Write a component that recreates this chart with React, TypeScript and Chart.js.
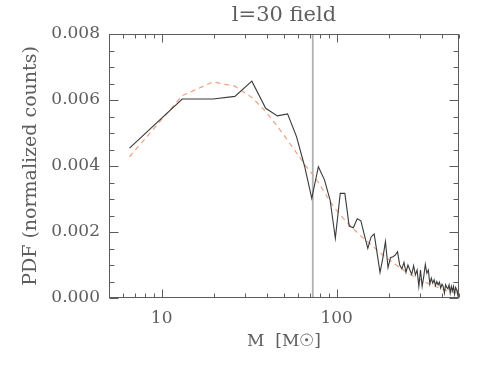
import React, { useEffect, useRef } from "react";
import { Chart, registerables } from "chart.js";

Chart.register(...registerables);

const titleText = "l=30 field";
const xTitle = "M  [M\u2609]";
const yTitle = "PDF (normalized counts)";

const mass = [
  6.55, 13.1, 19.65, 26.2, 32.75, 39.3, 45.85, 52.4, 58.95, 65.5,
  72.05, 78.6, 85.15, 91.7, 98.25, 104.8, 111.35, 117.9, 124.45, 131.0,
  137.55, 144.1, 150.65, 157.2, 163.75, 170.3, 176.85, 183.4, 189.95, 196.5,
  203.05, 209.6, 216.15, 222.7, 229.25, 235.8, 242.35, 248.9, 255.45, 262.0,
  268.55, 275.1, 281.65, 288.2, 294.75, 301.3, 307.85, 314.4, 320.95, 327.5,
  334.05, 340.6, 347.15, 353.7, 360.25, 366.8, 373.35, 379.9, 386.45, 393.0,
  399.55, 406.1, 412.65, 419.2, 425.75, 432.3, 438.85, 445.4, 451.95, 458.5,
  465.05, 471.6, 478.15, 484.7, 491.25, 497.8,
];

const pdf = [
  0.00454, 0.00603, 0.00603, 0.00611, 0.00657, 0.00575, 0.00552, 0.00558, 0.00489, 0.0040,
  0.00302, 0.00398, 0.00358, 0.00297, 0.00181, 0.00317, 0.00317, 0.00218, 0.00213, 0.0024,
  0.00234, 0.0019, 0.0015, 0.00185, 0.00194, 0.00135, 0.00077, 0.0012, 0.00171, 0.00092,
  0.00122, 0.00125, 0.0013, 0.0014, 0.0010, 0.00088, 0.00108, 0.00078, 0.0010, 0.00085,
  0.00072, 0.00098, 0.0007, 0.00085, 0.00035, 0.00085, 0.00035, 0.00065, 0.00102, 0.00075,
  0.00085, 0.00042, 0.0006, 0.00045, 0.00055, 0.00038, 0.0005, 0.0004, 0.00048, 0.0003,
  0.00042, 0.00035, 0.00015, 0.0004, 0.00032, 0.00028, 0.0004, 0.00015, 0.00035, 0.00022,
  0.00035, 0.00012, 0.00032, 0.00025, 0.0001, 0.0003,
];

const fitMass = [
  6.55, 13.1, 19.65, 26.2, 32.75, 39.3, 45.85, 52.4, 58.95, 65.5,
  72.05, 78.6, 85.15, 91.7, 98.25, 111.35, 124.45, 137.55, 150.65, 170.3,
  189.95, 209.6, 235.8, 262.0, 288.2, 320.95, 353.7, 386.45, 419.2, 451.95, 497.8,
];
const fitPdf = [
  0.00428, 0.00613, 0.00655, 0.00642, 0.00608, 0.00565, 0.0052, 0.00478, 0.0044, 0.00405,
  0.00378, 0.0035, 0.0032, 0.00292, 0.0027, 0.00236, 0.0021, 0.00188, 0.0017, 0.00145,
  0.00124, 0.00107, 0.00088, 0.00072, 0.0006, 0.00048, 0.00038, 0.0003, 0.00024, 0.00019, 0.00013,
];

const completenessMass = 73;
const yRange = [0, 0.008];
const xRange = [5, 500];

const xMajorTicks = [10, 100];
const xMinorTicks = [5, 6, 7, 8, 9, 20, 30, 40, 50, 60, 70, 80, 90, 200, 300, 400, 500];
const yMajorTicks = [0, 0.002, 0.004, 0.006, 0.008];
const yMinorTicks = [0.0005, 0.001, 0.0015, 0.0025, 0.003, 0.0035, 0.0045, 0.005, 0.0055, 0.0065, 0.007, 0.0075];

const AXIS_COLOR = "#5c5c5c";
const TEXT_COLOR = "#5e5e5e";

const frameTicks = {
  id: "frameTicks",
  afterDraw(chart: any) {
    const ctx: CanvasRenderingContext2D = chart.ctx;
    const area = chart.chartArea;
    const xs = chart.scales["x"];
    const ys = chart.scales["y"];
    const L = Math.round(area.left) + 0.5;
    const R = Math.round(area.right) - 0.5;
    const T = Math.round(area.top) + 0.5;
    const B = Math.round(area.bottom) - 0.5;
    ctx.save();
    ctx.setLineDash([]);
    ctx.strokeStyle = AXIS_COLOR;
    ctx.lineWidth = 1;
    ctx.strokeRect(L, T, R - L, B - T);
    const seg = (x1: number, y1: number, x2: number, y2: number) => {
      ctx.beginPath();
      ctx.moveTo(x1, y1);
      ctx.lineTo(x2, y2);
      ctx.stroke();
    };
    xMajorTicks.forEach((v) => {
      const p = Math.round(xs.getPixelForValue(v)) + 0.5;
      seg(p, B, p, B - 8);
      seg(p, T, p, T + 8);
    });
    xMinorTicks.forEach((v) => {
      const p = Math.round(xs.getPixelForValue(v)) + 0.5;
      seg(p, B, p, B - 4);
      seg(p, T, p, T + 4);
    });
    yMajorTicks.forEach((v) => {
      const p = Math.round(ys.getPixelForValue(v)) + 0.5;
      seg(L, p, L + 9, p);
      seg(R, p, R - 9, p);
    });
    yMinorTicks.forEach((v) => {
      const p = Math.round(ys.getPixelForValue(v)) + 0.5;
      seg(L, p, L + 5, p);
      seg(R, p, R - 5, p);
    });
    ctx.restore();
  },
};

export default function App() {
  const ref = useRef<HTMLCanvasElement | null>(null);
  useEffect(() => {
    if (!ref.current) return;
    Chart.defaults.font.family = "'DejaVu Serif', serif";
    Chart.defaults.color = TEXT_COLOR;
    const chart = new Chart(ref.current, {
      type: "line",
      data: {
        datasets: [
          {
            label: "PDF",
            data: mass.map((m, i) => ({ x: m, y: pdf[i] })),
            borderColor: "#3a3a3a",
            borderWidth: 1.1,
            pointRadius: 0,
            tension: 0,
            fill: false,
          },
          {
            label: "fit",
            data: fitMass.map((m, i) => ({ x: m, y: fitPdf[i] })),
            borderColor: "#f0a080",
            borderWidth: 1.2,
            borderDash: [5, 4],
            pointRadius: 0,
            tension: 0,
            fill: false,
          },
          {
            label: "completeness",
            data: [
              { x: completenessMass, y: yRange[0] },
              { x: completenessMass, y: yRange[1] },
            ],
            borderColor: "#b0b0b0",
            borderWidth: 1.8,
            pointRadius: 0,
            fill: false,
          },
        ],
      },
      options: {
        animation: false,
        responsive: false,
        layout: { padding: { left: 0, right: 32, top: 0, bottom: 0 } },
        plugins: {
          legend: { display: false },
          tooltip: { enabled: false },
          title: {
            display: true,
            text: titleText,
            fullSize: false,
            color: TEXT_COLOR,
            font: { size: 21, weight: "normal" },
            padding: { top: 3, bottom: 5.8 },
          },
        },
        scales: {
          x: {
            type: "logarithmic",
            min: xRange[0],
            max: xRange[1],
            grid: { display: false, drawTicks: false },
            border: { display: false },
            ticks: {
              autoSkip: false,
              maxRotation: 0,
              padding: 10.8,
              font: { size: 17 },
              color: TEXT_COLOR,
              callback: (v: any) => (xMajorTicks.includes(Number(v)) ? String(v) : ""),
            },
            title: {
              display: true,
              text: xTitle,
              color: TEXT_COLOR,
              font: { size: 17 },
              padding: { top: 0, bottom: 15.8 },
            },
            afterFit: (s: any) => {
              s.height = 70;
            },
          },
          y: {
            type: "linear",
            min: yRange[0],
            max: yRange[1],
            grid: { display: false, drawTicks: false },
            border: { display: false },
            afterBuildTicks: (s: any) => {
              s.ticks = yMajorTicks.map((v) => ({ value: v }));
            },
            ticks: {
              padding: 9,
              font: { size: 17 },
              color: TEXT_COLOR,
              callback: (v: any) => Number(v).toFixed(3),
            },
            title: {
              display: true,
              text: yTitle,
              color: TEXT_COLOR,
              font: { size: 19 },
              padding: { top: 19.6, bottom: 0 },
            },
            afterFit: (s: any) => {
              s.width = 109;
            },
          },
        },
      },
      plugins: [frameTicks],
    });
    return () => chart.destroy();
  }, []);
  return (
    <div style={{ position: "fixed", left: 0, top: 0, width: 491, height: 368, background: "#fff" }}>
      <canvas ref={ref} width={491} height={368} style={{ display: "block" }} />
    </div>
  );
}
